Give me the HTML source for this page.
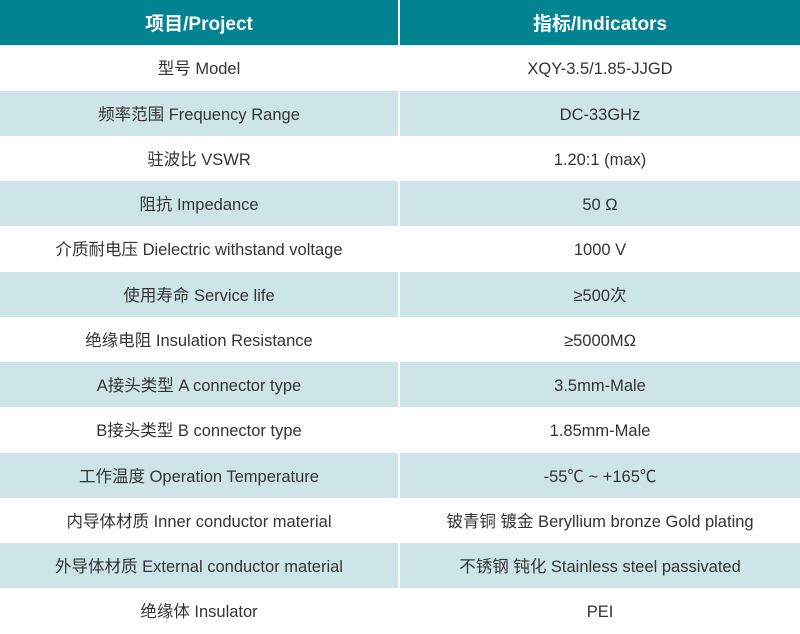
<!DOCTYPE html><html><head><meta charset="utf-8"><style>
body{margin:0;width:800px;height:634px;overflow:hidden;background:#fff;font-family:"Liberation Sans","Noto Sans CJK SC",sans-serif;}
.r{display:flex;height:45.28px}
.r div{box-sizing:border-box;height:45.28px;padding-top:2px;line-height:45px;text-align:center;font-size:16.5px;color:#333;white-space:nowrap;overflow:hidden}
.r div:first-child{width:398px;margin-right:2px}
.r div:last-child{width:400px}
.h div{background:#028391;color:#fff;font-weight:bold;font-size:19px}
.b div{background:#cde5e9}
</style></head><body>
<div class="r h"><div>项目/Project</div><div>指标/Indicators</div></div>
<div class="r"><div>型号 Model</div><div>XQY-3.5/1.85-JJGD</div></div>
<div class="r b"><div>频率范围 Frequency Range</div><div>DC-33GHz</div></div>
<div class="r"><div>驻波比 VSWR</div><div>1.20:1 (max)</div></div>
<div class="r b"><div>阻抗 Impedance</div><div>50 Ω</div></div>
<div class="r"><div>介质耐电压 Dielectric withstand voltage</div><div>1000 V</div></div>
<div class="r b"><div>使用寿命 Service life</div><div>≥500次</div></div>
<div class="r"><div>绝缘电阻 Insulation Resistance</div><div>≥5000MΩ</div></div>
<div class="r b"><div>A接头类型 A connector type</div><div>3.5mm-Male</div></div>
<div class="r"><div>B接头类型 B connector type</div><div>1.85mm-Male</div></div>
<div class="r b"><div>工作温度 Operation Temperature</div><div>-55℃ ~ +165℃</div></div>
<div class="r"><div>内导体材质 Inner conductor material</div><div>铍青铜 镀金 Beryllium bronze Gold plating</div></div>
<div class="r b"><div>外导体材质 External conductor material</div><div>不锈钢 钝化 Stainless steel passivated</div></div>
<div class="r"><div>绝缘体 Insulator</div><div>PEI</div></div>
</body></html>
